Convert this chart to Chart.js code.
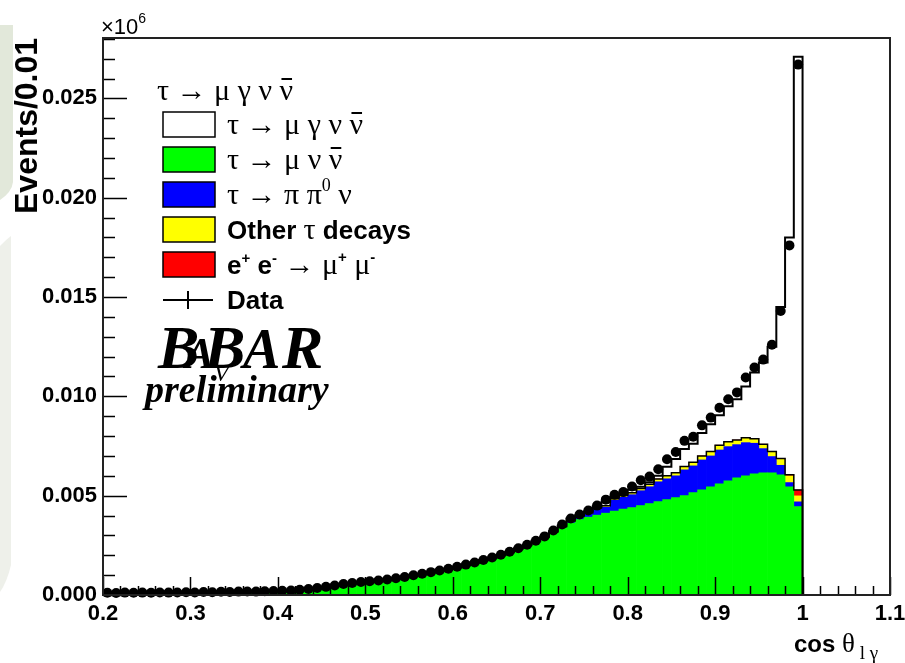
<!DOCTYPE html>
<html>
<head>
<meta charset="utf-8">
<script src="https://cdn.jsdelivr.net/npm/chart.js@4.4.0/dist/chart.umd.min.js"></script>
<style>
  html, body { margin: 0; padding: 0; background: #fff; }
  #wrap { position: relative; width: 905px; height: 663px; }
</style>
</head>
<body>
<div id="wrap"><canvas id="chart" width="905" height="663"></canvas></div>
<script>
// Bin centres of cos(theta_l gamma), 0.01 wide bins from 0.2 to 1.0
const binCenters = [
  0.205, 0.215, 0.225, 0.235, 0.245, 0.255, 0.265, 0.275, 0.285, 0.295,
  0.305, 0.315, 0.325, 0.335, 0.345, 0.355, 0.365, 0.375, 0.385, 0.395,
  0.405, 0.415, 0.425, 0.435, 0.445, 0.455, 0.465, 0.475, 0.485, 0.495,
  0.505, 0.515, 0.525, 0.535, 0.545, 0.555, 0.565, 0.575, 0.585, 0.595,
  0.605, 0.615, 0.625, 0.635, 0.645, 0.655, 0.665, 0.675, 0.685, 0.695,
  0.705, 0.715, 0.725, 0.735, 0.745, 0.755, 0.765, 0.775, 0.785, 0.795,
  0.805, 0.815, 0.825, 0.835, 0.845, 0.855, 0.865, 0.875, 0.885, 0.895,
  0.905, 0.915, 0.925, 0.935, 0.945, 0.955, 0.965, 0.975, 0.985, 0.995
];
const halfBin = 0.005;
const histHigh = 1.0;

// Events per bin, in units of 1000 (axis shows value x10^6 / 1000)
const dataEvents = [
  0.11, 0.10, 0.12, 0.11, 0.12, 0.11, 0.13, 0.12, 0.13, 0.14,
  0.13, 0.15, 0.14, 0.16, 0.15, 0.17, 0.18, 0.17, 0.19, 0.20,
  0.21, 0.23, 0.26, 0.30, 0.35, 0.41, 0.48, 0.55, 0.60, 0.65,
  0.69, 0.73, 0.78, 0.84, 0.91, 0.99, 1.07, 1.15, 1.23, 1.32,
  1.42, 1.53, 1.64, 1.76, 1.89, 2.03, 2.18, 2.35, 2.53, 2.73,
  2.95, 3.25, 3.55, 3.85, 4.05, 4.25, 4.50, 4.80, 5.05, 5.18,
  5.46, 5.78, 5.96, 6.33, 6.83, 7.20, 7.76, 7.97, 8.54, 8.93,
  9.43, 9.85, 10.20, 10.95, 11.45, 11.85, 12.60, 14.30, 17.60, 26.70
];
// tau -> mu nu nubar
const muNuNu = [
  0.07, 0.06, 0.08, 0.07, 0.08, 0.07, 0.09, 0.08, 0.09, 0.10,
  0.09, 0.11, 0.10, 0.12, 0.11, 0.13, 0.14, 0.13, 0.15, 0.16,
  0.17, 0.19, 0.22, 0.26, 0.31, 0.36, 0.43, 0.50, 0.55, 0.60,
  0.64, 0.68, 0.73, 0.79, 0.86, 0.94, 1.02, 1.10, 1.18, 1.27,
  1.33, 1.44, 1.55, 1.67, 1.80, 1.94, 2.09, 2.26, 2.44, 2.64,
  2.86, 3.12, 3.38, 3.62, 3.80, 3.92, 4.02, 4.12, 4.22, 4.32,
  4.40, 4.50, 4.60, 4.70, 4.80, 4.90, 5.00, 5.15, 5.30, 5.45,
  5.60, 5.75, 5.90, 6.00, 6.10, 6.15, 6.15, 6.05, 5.45, 4.45
];
// tau -> pi pi0 nu
const piPi0Nu = [
  0, 0, 0, 0, 0, 0, 0, 0, 0, 0,
  0, 0, 0, 0, 0, 0, 0, 0, 0, 0,
  0, 0, 0, 0, 0, 0, 0, 0, 0, 0,
  0, 0, 0, 0, 0, 0, 0, 0, 0, 0,
  0.02, 0.02, 0.02, 0.02, 0.02, 0.02, 0.02, 0.02, 0.02, 0.02,
  0.02, 0.02, 0.03, 0.05, 0.10, 0.15, 0.30, 0.30, 0.55, 0.60,
  0.65, 0.75, 0.85, 1.00, 1.05, 1.10, 1.30, 1.35, 1.50, 1.55,
  1.70, 1.72, 1.67, 1.67, 1.54, 1.22, 0.82, 0.48, 0.21, 0.24
];
// other tau decays
const otherTau = [
  0.01, 0.01, 0.01, 0.01, 0.01, 0.01, 0.01, 0.01, 0.01, 0.01,
  0.01, 0.01, 0.01, 0.01, 0.01, 0.01, 0.01, 0.01, 0.01, 0.01,
  0.01, 0.01, 0.01, 0.01, 0.01, 0.01, 0.01, 0.01, 0.01, 0.01,
  0.01, 0.01, 0.01, 0.01, 0.01, 0.01, 0.01, 0.01, 0.01, 0.01,
  0.02, 0.02, 0.02, 0.02, 0.02, 0.02, 0.02, 0.02, 0.02, 0.02,
  0.02, 0.02, 0.02, 0.03, 0.03, 0.04, 0.04, 0.05, 0.06, 0.07,
  0.08, 0.09, 0.10, 0.12, 0.13, 0.14, 0.15, 0.16, 0.18, 0.20,
  0.22, 0.22, 0.21, 0.23, 0.21, 0.20, 0.23, 0.31, 0.34, 0.30
];
// e+ e- -> mu+ mu-
const eeMuMu = [
  0.01, 0.01, 0.01, 0.01, 0.01, 0.01, 0.01, 0.01, 0.01, 0.01,
  0.01, 0.01, 0.01, 0.01, 0.01, 0.01, 0.01, 0.01, 0.01, 0.01,
  0.01, 0.01, 0.01, 0.01, 0.01, 0.01, 0.01, 0.01, 0.01, 0.01,
  0.01, 0.01, 0.01, 0.01, 0.01, 0.01, 0.01, 0.01, 0.01, 0.01,
  0.01, 0.01, 0.01, 0.01, 0.01, 0.01, 0.01, 0.01, 0.01, 0.01,
  0.01, 0.01, 0.01, 0.02, 0.02, 0.02, 0.02, 0.02, 0.02, 0.02,
  0.02, 0.02, 0.02, 0.02, 0.02, 0.02, 0.02, 0.02, 0.02, 0.02,
  0.02, 0.02, 0.02, 0.02, 0.02, 0.02, 0.02, 0.03, 0.05, 0.30
];
// tau -> mu gamma nu nubar (signal, white)
const muGammaNuNu = [
  0.02, 0.02, 0.02, 0.02, 0.02, 0.02, 0.02, 0.02, 0.02, 0.02,
  0.02, 0.02, 0.02, 0.02, 0.02, 0.02, 0.02, 0.02, 0.02, 0.02,
  0.02, 0.02, 0.02, 0.02, 0.02, 0.03, 0.03, 0.03, 0.03, 0.03,
  0.03, 0.03, 0.03, 0.03, 0.03, 0.03, 0.03, 0.03, 0.03, 0.03,
  0.04, 0.04, 0.04, 0.04, 0.04, 0.04, 0.04, 0.04, 0.04, 0.04,
  0.04, 0.04, 0.04, 0.13, 0.07, 0.07, 0.07, 0.21, 0.10, 0.09,
  0.15, 0.09, 0.11, 0.16, 0.45, 0.69, 0.88, 0.94, 1.15, 1.38,
  1.51, 1.79, 2.05, 2.58, 3.33, 4.11, 5.28, 7.63, 11.95, 21.81
];

const xTicks = [0.2, 0.3, 0.4, 0.5, 0.6, 0.7, 0.8, 0.9, 1.0, 1.1];
const yTicks = [0, 5, 10, 15, 20, 25];

const SANS = '"Liberation Sans", Arial, sans-serif';
const SERIF = '"Liberation Serif", "DejaVu Serif", serif';

// stacked sums for the black outlines
const bgTop = binCenters.map((c, i) => muNuNu[i] + piPi0Nu[i] + otherTau[i] + eeMuMu[i]);
const mcTop = bgTop.map((v, i) => v + muGammaNuNu[i]);

const toPoints = (vals) => binCenters.map((x, i) => ({ x: x, y: vals[i] }));
const stepPoints = (vals) => {
    let pts = binCenters.map((c, i) => ({ x: c - halfBin, y: vals[i] }));
    pts.push({ x: histHigh, y: vals[vals.length - 1] });
    pts.push({ x: histHigh, y: 0 });
    return pts;
};

const barSet = (label, vals, color) => ({
    type: 'bar',
    label: label,
    data: toPoints(vals),
    backgroundColor: color,
    borderWidth: 0,
    barPercentage: 1,
    categoryPercentage: 1,
    stack: 'mc',
    order: 3
});

const stepSet = (label, vals, width) => ({
    type: 'line',
    label: label,
    data: stepPoints(vals),
    borderColor: '#000',
    borderWidth: width,
    stepped: true,
    pointRadius: 0,
    fill: false,
    stack: label,
    order: 2
});

// draws a run of text pieces with their own font / offset
const richText = (ctx, x, y, parts) => {
    parts.forEach(p => {
        ctx.font = p.f;
        ctx.fillText(p.t, x, y + (p.dy || 0));
        const w = ctx.measureText(p.t).width;
        if (p.bar) ctx.fillRect(x + 2, y - (p.barY || 22), w - 3, 2);
        x += w + (p.gap || 0);
    });
    return x;
};

const G = '30px ' + SERIF;
const B = 'bold 26px ' + SANS;
const supB = 'bold 15px ' + SANS;
const supG = '18px ' + SERIF;

const tauMuGamma = [
    { t: 'τ', f: G }, { t: ' → ', f: G }, { t: 'μ', f: G }, { t: ' γ ', f: G },
    { t: 'ν', f: G }, { t: ' ', f: G }, { t: 'ν', f: G, bar: true }
];

const legendRows = [
    { fill: '#ffffff', parts: tauMuGamma },
    { fill: '#00ff00', parts: [
        { t: 'τ', f: G }, { t: ' → ', f: G }, { t: 'μ', f: G }, { t: ' ν ', f: G },
        { t: 'ν', f: G, bar: true }
    ] },
    { fill: '#0000ff', parts: [
        { t: 'τ', f: G }, { t: ' → ', f: G }, { t: 'π', f: G }, { t: ' π', f: G },
        { t: '0', f: supG, dy: -13 }, { t: ' ν', f: G }
    ] },
    { fill: '#ffff00', parts: [
        { t: 'Other ', f: B }, { t: 'τ', f: G }, { t: ' decays', f: B }
    ] },
    { fill: '#ff0000', parts: [
        { t: 'e', f: B }, { t: '+', f: supB, dy: -11 }, { t: ' e', f: B }, { t: '-', f: supB, dy: -11 },
        { t: ' → ', f: G }, { t: 'μ', f: G }, { t: '+', f: supB, dy: -12 }, { t: ' μ', f: G },
        { t: '-', f: supB, dy: -12 }
    ] }
];

const backdrop = {
    id: 'backdrop',
    beforeDraw(chart) {
        const ctx = chart.ctx;
        ctx.save();
        ctx.fillStyle = '#fff';
        ctx.fillRect(0, 0, chart.width, chart.height);
        // slide background peeking in at the left edge
        ctx.fillStyle = '#e2e8da';
        ctx.beginPath();
        ctx.moveTo(0, 25);
        ctx.lineTo(13, 25);
        ctx.lineTo(13, 182);
        ctx.quadraticCurveTo(12, 192, 0, 200);
        ctx.closePath();
        ctx.fill();
        ctx.fillStyle = '#eef0ea';
        ctx.beginPath();
        ctx.moveTo(0, 246);
        ctx.quadraticCurveTo(8, 238, 11, 236);
        ctx.lineTo(11, 565);
        ctx.quadraticCurveTo(7, 582, 0, 592);
        ctx.closePath();
        ctx.fill();
        ctx.restore();
    }
};

const frameAndTicks = {
    id: 'frameAndTicks',
    afterDatasetsDraw(chart) {
        const { ctx, chartArea: a, scales: { x, y } } = chart;
        ctx.save();

        // horizontal error bars of the data points
        ctx.strokeStyle = '#000';
        ctx.lineWidth = 1.5;
        ctx.beginPath();
        binCenters.forEach((c, i) => {
            const py = y.getPixelForValue(dataEvents[i]);
            ctx.moveTo(x.getPixelForValue(c - halfBin), py);
            ctx.lineTo(x.getPixelForValue(c + halfBin), py);
        });
        ctx.stroke();

        // ROOT style inner ticks
        ctx.lineWidth = 1.5;
        ctx.beginPath();
        for (let i = 0; i <= 45; i++) {
            const px = Math.round(x.getPixelForValue(0.2 + i * 0.02)) + 0.5;
            const len = i % 5 === 0 ? 18 : 9;
            ctx.moveTo(px, a.bottom);
            ctx.lineTo(px, a.bottom - len);
        }
        for (let i = 0; i <= 28; i++) {
            const py = Math.round(y.getPixelForValue(i)) + 0.5;
            const len = i % 5 === 0 ? 24 : 12;
            ctx.moveTo(a.left, py);
            ctx.lineTo(a.left + len, py);
        }
        ctx.stroke();

        // frame
        ctx.lineWidth = 2;
        ctx.strokeStyle = '#222';
        ctx.strokeRect(a.left, a.top, a.right - a.left, a.bottom - a.top);
        ctx.restore();
    }
};

const annotations = {
    id: 'annotations',
    afterDraw(chart) {
        const ctx = chart.ctx;
        ctx.save();
        ctx.fillStyle = '#000';
        ctx.textAlign = 'left';
        ctx.textBaseline = 'alphabetic';

        // exponent of the y axis
        richText(ctx, 101, 34, [
            { t: '×10', f: '22px ' + SANS }, { t: '6', f: '14px ' + SANS, dy: -11 }
        ]);

        // y axis title
        ctx.save();
        ctx.translate(37, 214);
        ctx.rotate(-Math.PI / 2);
        ctx.font = 'bold 32px ' + SANS;
        ctx.fillText('Events/0.01', 0, 0);
        ctx.restore();

        // x axis title
        richText(ctx, 794, 652, [
            { t: 'cos ', f: 'bold 24px ' + SANS }, { t: 'θ', f: '27px ' + SERIF },
            { t: ' l γ', f: '19px ' + SERIF, dy: 7 }
        ]);

        // legend
        richText(ctx, 157, 100, tauMuGamma);
        const boxX = 163, boxW = 52, boxH = 25;
        legendRows.forEach((row, i) => {
            const top = 112 + i * 35;
            ctx.fillStyle = row.fill;
            ctx.fillRect(boxX, top, boxW, boxH);
            ctx.strokeStyle = '#000';
            ctx.lineWidth = 1.5;
            ctx.strokeRect(boxX, top, boxW, boxH);
            ctx.fillStyle = '#000';
            richText(ctx, 227, top + 22, row.parts);
        });
        ctx.lineWidth = 2;
        ctx.beginPath();
        ctx.moveTo(163, 300); ctx.lineTo(213, 300);
        ctx.moveTo(188, 291); ctx.lineTo(188, 309);
        ctx.stroke();
        richText(ctx, 227, 309, [{ t: 'Data', f: B }]);

        // BaBar logo
        const big = 'bold italic 62px ' + SERIF;
        ctx.font = big; ctx.fillText('B', 158, 368);
        ctx.font = 'bold italic 44px ' + SERIF; ctx.fillText('A', 185, 368);
        ctx.font = big; ctx.fillText('B', 204, 368);
        ctx.font = 'bold italic 56px ' + SERIF; ctx.fillText('A', 243, 368);
        ctx.font = big; ctx.fillText('R', 282, 368);
        ctx.font = 'italic 24px ' + SERIF; ctx.fillText('V', 214, 381);
        ctx.font = 'bold italic 38px ' + SERIF;
        ctx.fillText('preliminary', 145, 402);

        ctx.restore();
    }
};

const histChart = new Chart(document.getElementById('chart'), {
    data: {
        datasets: [
            barSet('τ → μ ν ν̄', muNuNu, '#00ff00'),
            barSet('τ → π π0 ν', piPi0Nu, '#0000ff'),
            barSet('Other τ decays', otherTau, '#ffff00'),
            barSet('e+ e- → μ+ μ-', eeMuMu, '#ff0000'),
            barSet('τ → μ γ ν ν̄', muGammaNuNu, '#ffffff'),
            stepSet('bgOutline', bgTop, 1.5),
            stepSet('mcOutline', mcTop, 2),
            {
                type: 'line',
                label: 'Data',
                data: toPoints(dataEvents),
                showLine: false,
                pointRadius: 5,
                pointBackgroundColor: '#000',
                pointBorderWidth: 0,
                stack: 'data',
                order: 0,
                clip: 6
            }
        ]
    },
    options: {
        responsive: false,
        animation: false,
        devicePixelRatio: 1,
        layout: { padding: { top: 38, right: 15, left: 0, bottom: 0 } },
        plugins: {
            legend: { display: false },
            tooltip: { enabled: false }
        },
        scales: {
            x: {
                type: 'linear',
                min: 0.2,
                max: 1.1,
                offset: false,
                grid: { display: false, drawTicks: false, offset: false },
                border: { display: false },
                afterFit: (s) => {
                    s.height = 68;
                    s.paddingLeft = 0;
                    s.paddingRight = 0;
                },
                afterBuildTicks: (s) => { s.ticks = xTicks.map(v => ({ value: v })); },
                ticks: {
                    autoSkip: false,
                    maxRotation: 0,
                    padding: 6,
                    color: '#000',
                    font: { family: SANS, weight: 'bold', size: 22 },
                    callback: (v) => String(Number(v.toFixed(1)))
                }
            },
            y: {
                stacked: true,
                min: 0,
                max: 28.04,
                grid: { display: false, drawTicks: false },
                border: { display: false },
                afterFit: (s) => {
                    s.width = 103;
                    s.paddingTop = 0;
                    s.paddingBottom = 0;
                },
                afterBuildTicks: (s) => { s.ticks = yTicks.map(v => ({ value: v })); },
                ticks: {
                    padding: 6,
                    color: '#000',
                    font: { family: SANS, weight: 'bold', size: 22 },
                    callback: (v) => (v / 1000).toFixed(3)
                }
            }
        }
    },
    plugins: [backdrop, frameAndTicks, annotations]
});
</script>
</body>
</html>
